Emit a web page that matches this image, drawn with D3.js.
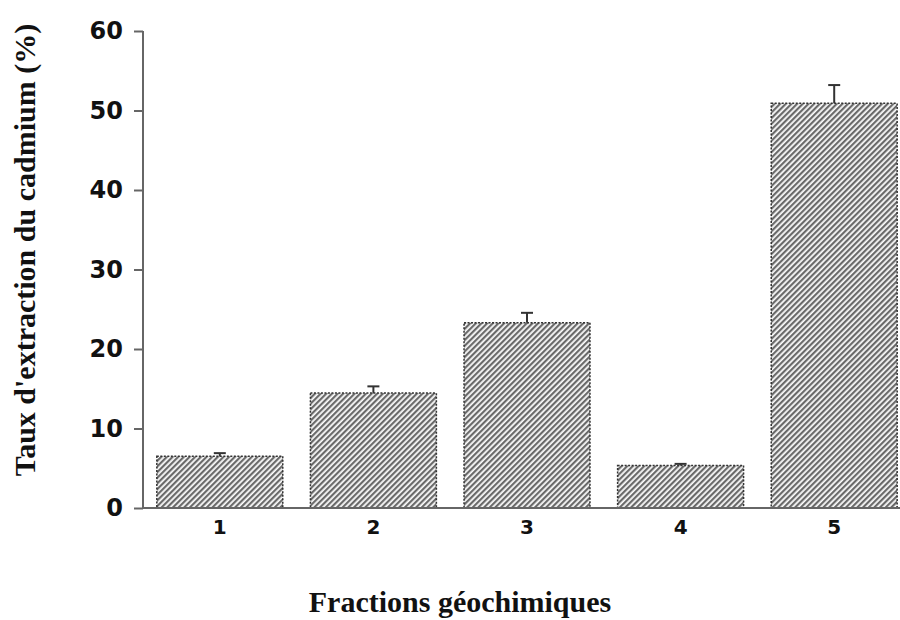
<!DOCTYPE html>
<html>
<head>
<meta charset="utf-8">
<script src="https://cdn.jsdelivr.net/npm/d3@7"></script>
<style>
  body { margin: 0; background: #fff; }
</style>
</head>
<body>
<svg id="chart" width="900" height="620"></svg>
<script>
const fractions = ['1', '2', '3', '4', '5'];
const extraction = [6.5, 14.45, 23.3, 5.35, 50.9];
const errors = [0.4, 0.85, 1.25, 0.2, 2.3];
const yTicks = [0, 10, 20, 30, 40, 50, 60];

const svg = d3.select('#chart');

// hatch pattern for the bars
const defs = svg.append('defs');
const pat = defs.append('pattern')
  .attr('id', 'hatch')
  .attr('patternUnits', 'userSpaceOnUse')
  .attr('width', 4)
  .attr('height', 4)
  .attr('patternTransform', 'rotate(45)');
pat.append('rect').attr('width', 4).attr('height', 4).attr('fill', '#fafafa');
pat.append('rect').attr('x', 0).attr('width', 2.2).attr('height', 4).attr('fill', '#6a6a6a');

const xScale = d3.scaleBand()
  .domain(fractions)
  .range([143, 911])
  .paddingInner(0.18)
  .paddingOuter(0.09);

const yScale = d3.scaleLinear()
  .domain([0, 60])
  .range([508, 31]);

// bars
svg.selectAll('rect.bar')
  .data(extraction)
  .enter()
  .append('rect')
  .attr('class', 'bar')
  .attr('x', (d, i) => xScale(fractions[i]))
  .attr('y', d => yScale(d))
  .attr('width', xScale.bandwidth())
  .attr('height', d => yScale(0) - yScale(d))
  .attr('fill', 'url(#hatch)')
  .attr('stroke', '#333')
  .attr('stroke-width', 1.5)
  .attr('stroke-dasharray', '2,1.5');

// error bars (upper only)
const err = svg.append('g').attr('stroke', '#333').attr('stroke-width', 2);
extraction.forEach((v, i) => {
  const cx = xScale(fractions[i]) + xScale.bandwidth() / 2;
  err.append('line')
    .attr('x1', cx).attr('x2', cx)
    .attr('y1', yScale(v)).attr('y2', yScale(v + errors[i]));
  err.append('line')
    .attr('x1', cx - 6).attr('x2', cx + 6)
    .attr('y1', yScale(v + errors[i])).attr('y2', yScale(v + errors[i]));
});

// y axis
const yAxis = d3.axisLeft(yScale).tickValues(yTicks).tickSize(9).tickPadding(11);
const gy = svg.append('g').attr('transform', 'translate(143,0)').call(yAxis);
gy.select('.domain').attr('stroke', '#666').attr('stroke-width', 2)
  .attr('d', `M0,${yScale(60)}V${yScale(0)}`);
gy.selectAll('.tick line').attr('stroke', '#666').attr('stroke-width', 2);
gy.selectAll('.tick text')
  .attr('font-family', 'DejaVu Sans, sans-serif')
  .attr('font-weight', 'bold')
  .attr('font-size', 24)
  .attr('fill', '#111');

// x axis
const xAxis = d3.axisBottom(xScale).tickSize(0).tickPadding(12);
const gx = svg.append('g').attr('transform', 'translate(0,508)').call(xAxis);
gx.select('.domain').attr('stroke', '#666').attr('stroke-width', 2)
  .attr('d', 'M143,0H900');
gx.selectAll('.tick text')
  .attr('font-family', 'DejaVu Sans, sans-serif')
  .attr('font-weight', 'bold')
  .attr('font-size', 20)
  .attr('fill', '#111');

// axis titles
svg.append('text')
  .attr('transform', 'translate(35,250) rotate(-90)')
  .attr('text-anchor', 'middle')
  .attr('font-family', 'Liberation Serif, Times New Roman, serif')
  .attr('font-weight', 'bold')
  .attr('font-size', 30)
  .attr('fill', '#111')
  .text("Taux d'extraction du cadmium (%)");

svg.append('text')
  .attr('x', 460)
  .attr('y', 612)
  .attr('text-anchor', 'middle')
  .attr('font-family', 'Liberation Serif, Times New Roman, serif')
  .attr('font-weight', 'bold')
  .attr('font-size', 30)
  .attr('fill', '#111')
  .text('Fractions géochimiques');
</script>
</body>
</html>
